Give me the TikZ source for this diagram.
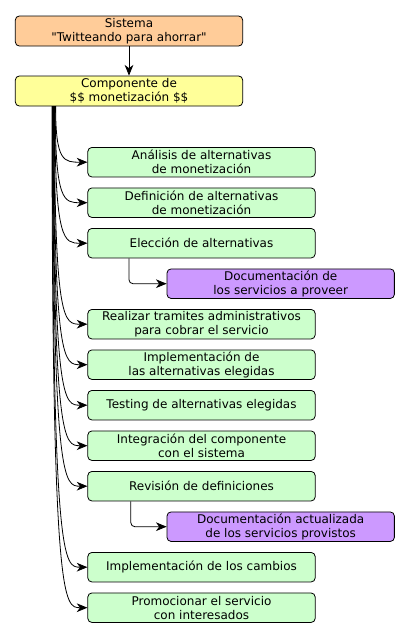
\documentclass[tikz,border=0pt]{standalone}
\usepackage{fontspec}
\setmainfont{DejaVu Sans}[Ligatures=TeXOff]
\usetikzlibrary{arrows.meta}

\definecolor{rootorange}{HTML}{FFCC99}
\definecolor{compyellow}{HTML}{FFFF99}
\definecolor{taskgreen}{HTML}{CCFFCC}
\definecolor{docpurple}{HTML}{CC99FF}

\tikzset{
  box/.style={draw, rounded corners=3pt, line width=0.6pt, minimum width=170.5pt,
    minimum height=22.1pt, inner sep=0pt, align=center, font=\fontsize{9}{10.5}\selectfont},
  root/.style={box, fill=rootorange, minimum height=22.5pt},
  comp/.style={box, fill=compyellow, minimum height=22.5pt},
  task/.style={box, fill=taskgreen},
  doc/.style={box, fill=docpurple},
  link/.style={-{Stealth[length=8pt,width=6.5pt,inset=2.4pt]}, line width=0.6pt},
}

\begin{document}
\begin{tikzpicture}[x=0.75pt,y=-0.75pt]
\useasboundingbox (0,0) rectangle (410,639);

% Upper levels
\node[root] (sis) at (129,31) {Sistema\\"Twitteando para ahorrar"};
\node[comp] (comp) at (129,91) {Componente de\\\$\$ monetización \$\$};
\draw[link] (sis) -- (comp);

% Tasks of the component
\node[task] (ana) at (201.5,162.2) {Análisis de alternativas\\de monetización};
\node[task] (def) at (201.5,202.7) {Definición de alternativas\\de monetización};
\node[task] (ele) at (201.5,243.2) {Elección de alternativas};
\node[doc] (doca) at (280.7,283.7) {Documentación de\\los servicios a proveer};
\node[task] (tra) at (201.5,324.2) {Realizar tramites administrativos\\para cobrar el servicio};
\node[task] (imp) at (201.5,364.7) {Implementación de\\las alternativas elegidas};
\node[task] (tes) at (201.5,405.2) {Testing de alternativas elegidas};
\node[task] (int) at (201.5,445.7) {Integración del componente\\con el sistema};
\node[task] (rev) at (201.5,486.2) {Revisión de definiciones};
\node[doc] (docb) at (280.7,526.7) {Documentación actualizada\\de los servicios provistos};
\node[task] (cam) at (201.5,567.2) {Implementación de los cambios};
\node[task] (pro) at (201.5,607.7) {Promocionar el servicio\\con interesados};

% Branches leaving the component
\coordinate (trunk) at (52,106);
\draw[link] ([xshift=2.7pt]trunk) .. controls ([xshift=2.7pt]trunk |- ana.west) and ([xshift=9pt]trunk |- ana.west) .. (ana.west);
\draw[link] ([xshift=2.4pt]trunk) .. controls ([xshift=2.4pt]trunk |- def.west) and ([xshift=9pt]trunk |- def.west) .. (def.west);
\draw[link] ([xshift=2.1pt]trunk) .. controls ([xshift=2.1pt]trunk |- ele.west) and ([xshift=9pt]trunk |- ele.west) .. (ele.west);
\draw[link] ([xshift=1.8pt]trunk) .. controls ([xshift=1.8pt]trunk |- tra.west) and ([xshift=9pt]trunk |- tra.west) .. (tra.west);
\draw[link] ([xshift=1.5pt]trunk) .. controls ([xshift=1.5pt]trunk |- imp.west) and ([xshift=9pt]trunk |- imp.west) .. (imp.west);
\draw[link] ([xshift=1.2pt]trunk) .. controls ([xshift=1.2pt]trunk |- tes.west) and ([xshift=9pt]trunk |- tes.west) .. (tes.west);
\draw[link] ([xshift=0.9pt]trunk) .. controls ([xshift=0.9pt]trunk |- int.west) and ([xshift=9pt]trunk |- int.west) .. (int.west);
\draw[link] ([xshift=0.6pt]trunk) .. controls ([xshift=0.6pt]trunk |- rev.west) and ([xshift=9pt]trunk |- rev.west) .. (rev.west);
\draw[link] ([xshift=0.3pt]trunk) .. controls ([xshift=0.3pt]trunk |- cam.west) and ([xshift=9pt]trunk |- cam.west) .. (cam.west);
\draw[link] (trunk) .. controls (trunk |- pro.west) and ([xshift=9pt]trunk |- pro.west) .. (pro.west);

% Documents
\draw[link, rounded corners=3pt] ([xshift=-54.4pt]ele.south) |- (doca.west);
\draw[link, rounded corners=3pt] ([xshift=-53pt]rev.south) |- (docb.west);

\end{tikzpicture}
\end{document}
